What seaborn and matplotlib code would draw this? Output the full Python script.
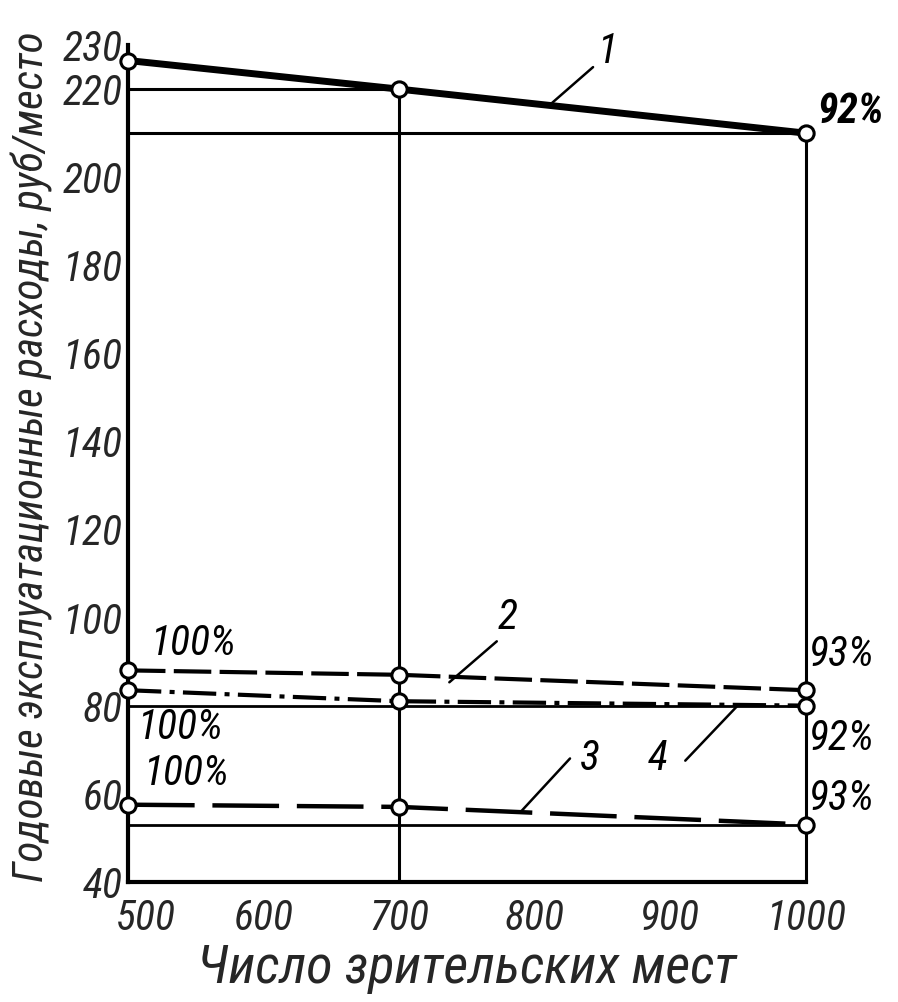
import matplotlib
matplotlib.use("Agg")
import matplotlib.pyplot as plt
import matplotlib.transforms as mtransforms
from matplotlib import font_manager
import seaborn as sns

# seats in the hall and yearly running costs, rub per seat
seats = [500, 700, 1000]
cost_1 = [226.5, 220, 210]
cost_2 = [88, 87, 83.5]
cost_3 = [57.5, 57, 53]
cost_4 = [83.5, 81, 80]

x_ticks = [500, 600, 700, 800, 900, 1000]
y_ticks = [40, 60, 80, 100, 120, 140, 160, 180, 200, 220, 230]

pct_left = ["100%", "100%", "100%"]          # curves 2, 4, 3
pct_right = ["92%", "93%", "92%", "93%"]     # curves 1, 2, 4, 3
curve_names = ["1", "2", "3", "4"]

x_label = "Число зрительских мест"
y_label = "Годовые эксплуатационные расходы, руб/место"


def pick_font(candidates):
    names = {f.name for f in font_manager.fontManager.ttflist}
    for c in candidates:
        if c in names:
            return c
    return "DejaVu Sans"


sns.set_theme(style="white")
narrow = pick_font(["Liberation Sans Narrow", "DejaVu Sans Condensed", "Roboto Condensed"])
plt.rcParams["font.family"] = [narrow, "DejaVu Sans"]
plt.rcParams["font.style"] = "italic"

fig = plt.figure(figsize=(8.98, 10.02), dpi=100)
ax = fig.add_axes([0.1425, 0.12, 0.755, 0.835])

mk = dict(marker="o", ms=11, mfc="white", mec="black", mew=2.2, clip_on=False, zorder=5)

# guide lines
ax.vlines(seats[1], 40, cost_1[1], color="black", lw=2.2, zorder=2)
ax.vlines(seats[2], 40, cost_1[2], color="black", lw=2.2, zorder=2, clip_on=False)
ax.hlines(cost_1[1], seats[0], seats[1], color="black", lw=2.2, zorder=2)
ax.hlines(cost_1[2], seats[0], seats[2], color="black", lw=2.2, zorder=2)
ax.hlines(cost_4[2], seats[0], seats[2], color="black", lw=2.0, zorder=2)
ax.hlines(cost_3[2], seats[0], seats[2], color="black", lw=2.0, zorder=2)

sns.lineplot(x=seats, y=cost_1, ax=ax, color="black", lw=5, **mk)
sns.lineplot(x=seats, y=cost_2, ax=ax, color="black", lw=3, dashes=(9, 2), **mk)
sns.lineplot(x=seats, y=cost_4, ax=ax, color="black", lw=3, dashes=(8, 2, 1.2, 2), **mk)
sns.lineplot(x=seats, y=cost_3, ax=ax, color="black", lw=3.2, dashes=(15, 4), **mk)

ax.set_xlim(500, 1000)
ax.set_ylim(40, 230)
ax.set_xticks(x_ticks)
ax.set_yticks(y_ticks)
ax.tick_params(direction="in", length=11, width=2, labelsize=30, color="black")
ax.tick_params(axis="x", pad=12)
ax.tick_params(axis="y", pad=4)
for side in ["top", "right"]:
    ax.spines[side].set_visible(False)
for side in ["left", "bottom"]:
    ax.spines[side].set_color("black")
    ax.spines[side].set_linewidth(3)

# first x label sits a little to the right of its tick, clear of "40"
first = ax.get_xticklabels()[0]
first.set_transform(first.get_transform() +
                    mtransforms.ScaledTranslation(0.18, 0, fig.dpi_scale_trans))

ax.set_xlabel(x_label, fontsize=39)
ax.set_ylabel(y_label, fontsize=31)
ax.xaxis.set_label_coords(0.50, -0.072)
ax.yaxis.set_label_coords(-0.11, 0.508)

tk = dict(fontsize=30, color="black", clip_on=False)

# curve numbers with leader lines
ax.text(853, 228.5, curve_names[0], ha="center", va="center", **tk)
ax.plot([843, 811], [225, 216.4], color="black", lw=1.8)
ax.text(780, 100, curve_names[1], ha="center", va="center", **tk)
ax.plot([772, 737], [94.6, 85.3], color="black", lw=1.8)
ax.text(841, 68, curve_names[2], ha="center", va="center", **tk)
ax.plot([826, 790], [68, 56], color="black", lw=1.8)
ax.text(891, 68, curve_names[3], ha="center", va="center", **tk)
ax.plot([911, 949], [67.5, 79.8], color="black", lw=1.8)

# percentages
ax.text(516, 94, pct_left[0], ha="left", va="center", **tk)
ax.text(507, 75, pct_left[1], ha="left", va="center", **tk)
ax.text(511, 64.5, pct_left[2], ha="left", va="center", **tk)
ax.text(1008, 215, pct_right[0], ha="left", va="center", fontweight="bold", **tk)
ax.text(1002, 91.5, pct_right[1], ha="left", va="center", **tk)
ax.text(1002, 72.5, pct_right[2], ha="left", va="center", **tk)
ax.text(1002, 59, pct_right[3], ha="left", va="center", **tk)

fig.savefig("out.png", dpi=100)
